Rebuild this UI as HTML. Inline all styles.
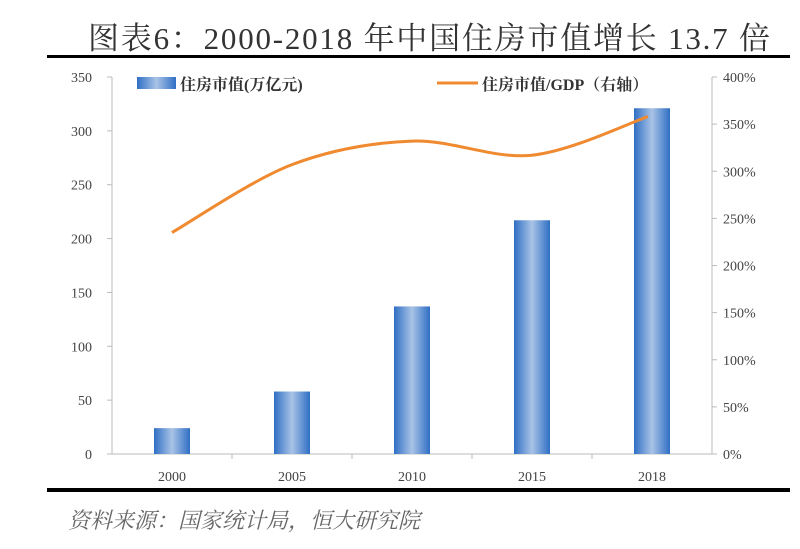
<!DOCTYPE html>
<html><head><meta charset="utf-8"><style>
body{margin:0;background:#fff;width:800px;height:549px;overflow:hidden}
svg{display:block}
text{font-family:"Liberation Serif","Noto Serif CJK SC",serif}
</style></head><body>
<svg width="800" height="549" viewBox="0 0 800 549">
<defs><linearGradient id="bg" x1="0" x2="1"><stop offset="0" stop-color="#2f6fc4"/><stop offset="0.5" stop-color="#a9c3e6"/><stop offset="1" stop-color="#2f6fc4"/></linearGradient></defs>
<text x="88" y="49" font-size="31" fill="#333" textLength="682" lengthAdjust="spacing">图表6：2000-2018 年中国住房市值增长 13.7 倍</text>
<rect x="47" y="55" width="743" height="3" fill="#000"/>
<rect x="47" y="488" width="743" height="4" fill="#000"/>
<text x="68" y="528" font-size="22" font-style="italic" fill="#666">资料来源：国家统计局，恒大研究院</text>
<g id="axes"></g><g id="bars"></g><g id="line"></g>
<rect x="137" y="77" width="39" height="12" fill="url(#bg)"/>
<text x="180" y="90" font-size="16" font-weight="bold" fill="#333">住房市值(万亿元)</text>
<line x1="437" y1="83" x2="478" y2="83" stroke="#f08a30" stroke-width="3"/>
<text x="482" y="90" font-size="16" font-weight="bold" fill="#333">住房市值/GDP（右轴）</text>
</svg>
<script>
const categories=["2000","2005","2010","2015","2018"];
const marketValue=[24,58,137,217,321];
const ratioPct=[235,307,332,317,358];
const leftTicks=[0,50,100,150,200,250,300,350];
const rightTicks=[0,50,100,150,200,250,300,350,400];
const NS="http://www.w3.org/2000/svg";
const X0=112,X1=712,Y0=454,Y1=77;
const band=(X1-X0)/categories.length;
const xc=i=>X0+band*(i+0.5);
const yl=v=>Y0-(v/350)*(Y0-Y1);
const yr=v=>Y0-(v/400)*(Y0-Y1);
function mk(tag,attrs,parent,txt){const e=document.createElementNS(NS,tag);for(const k in attrs)e.setAttribute(k,attrs[k]);if(txt!==undefined)e.textContent=txt;document.getElementById(parent).appendChild(e);return e;}
let e;
e=mk("line",{x1:X0,y1:Y1,x2:X0,y2:Y0,stroke:"#bbb"},"axes");


e=mk("line",{x1:X1,y1:Y1,x2:X1,y2:Y0,stroke:"#bbb"},"axes");


e=mk("line",{x1:X0,y1:Y0,x2:X1,y2:Y0,stroke:"#bbb"},"axes");


leftTicks.forEach(t=>{mk("line",{x1:X0-5,y1:yl(t),x2:X0,y2:yl(t),stroke:"#bbb"},"axes");
e=mk("text",{x:92,y:yl(t)+5,"text-anchor":"end","font-size":"14",fill:"#444"},"axes",t);

});
rightTicks.forEach(t=>{mk("line",{x1:X1,y1:yr(t),x2:X1+5,y2:yr(t),stroke:"#bbb"},"axes");
e=mk("text",{x:723,y:yr(t)+5,"font-size":"14",fill:"#444"},"axes",t+"%");

});
categories.forEach((c,i)=>{
 if(i>0)mk("line",{x1:X0+band*i,y1:Y0,x2:X0+band*i,y2:Y0+5,stroke:"#bbb"},"axes");
 e=mk("text",{x:xc(i),y:481,"text-anchor":"middle","font-size":"14",fill:"#444"},"axes",c);
 
 
 e=mk("rect",{x:xc(i)-18,y:yl(marketValue[i]),width:36,height:Y0-yl(marketValue[i]),fill:"url(#bg)"},"bars");
 
 
});
const pts=ratioPct.map((v,i)=>[xc(i)-(i==4?4:0),yr(v)]);
let d="M"+pts[0][0]+","+pts[0][1];
for(let i=0;i<pts.length-1;i++){const p0=pts[i-1]||pts[i],p1=pts[i],p2=pts[i+1],p3=pts[i+2]||p2;
 d+=" C"+(p1[0]+(p2[0]-p0[0])/6)+","+(p1[1]+(p2[1]-p0[1])/6)+" "+(p2[0]-(p3[0]-p1[0])/6)+","+(p2[1]-(p3[1]-p1[1])/6)+" "+p2[0]+","+p2[1];}
e=mk("path",{d:d,fill:"none",stroke:"#f08a30","stroke-width":"3"},"line");


</script>
</body></html>
